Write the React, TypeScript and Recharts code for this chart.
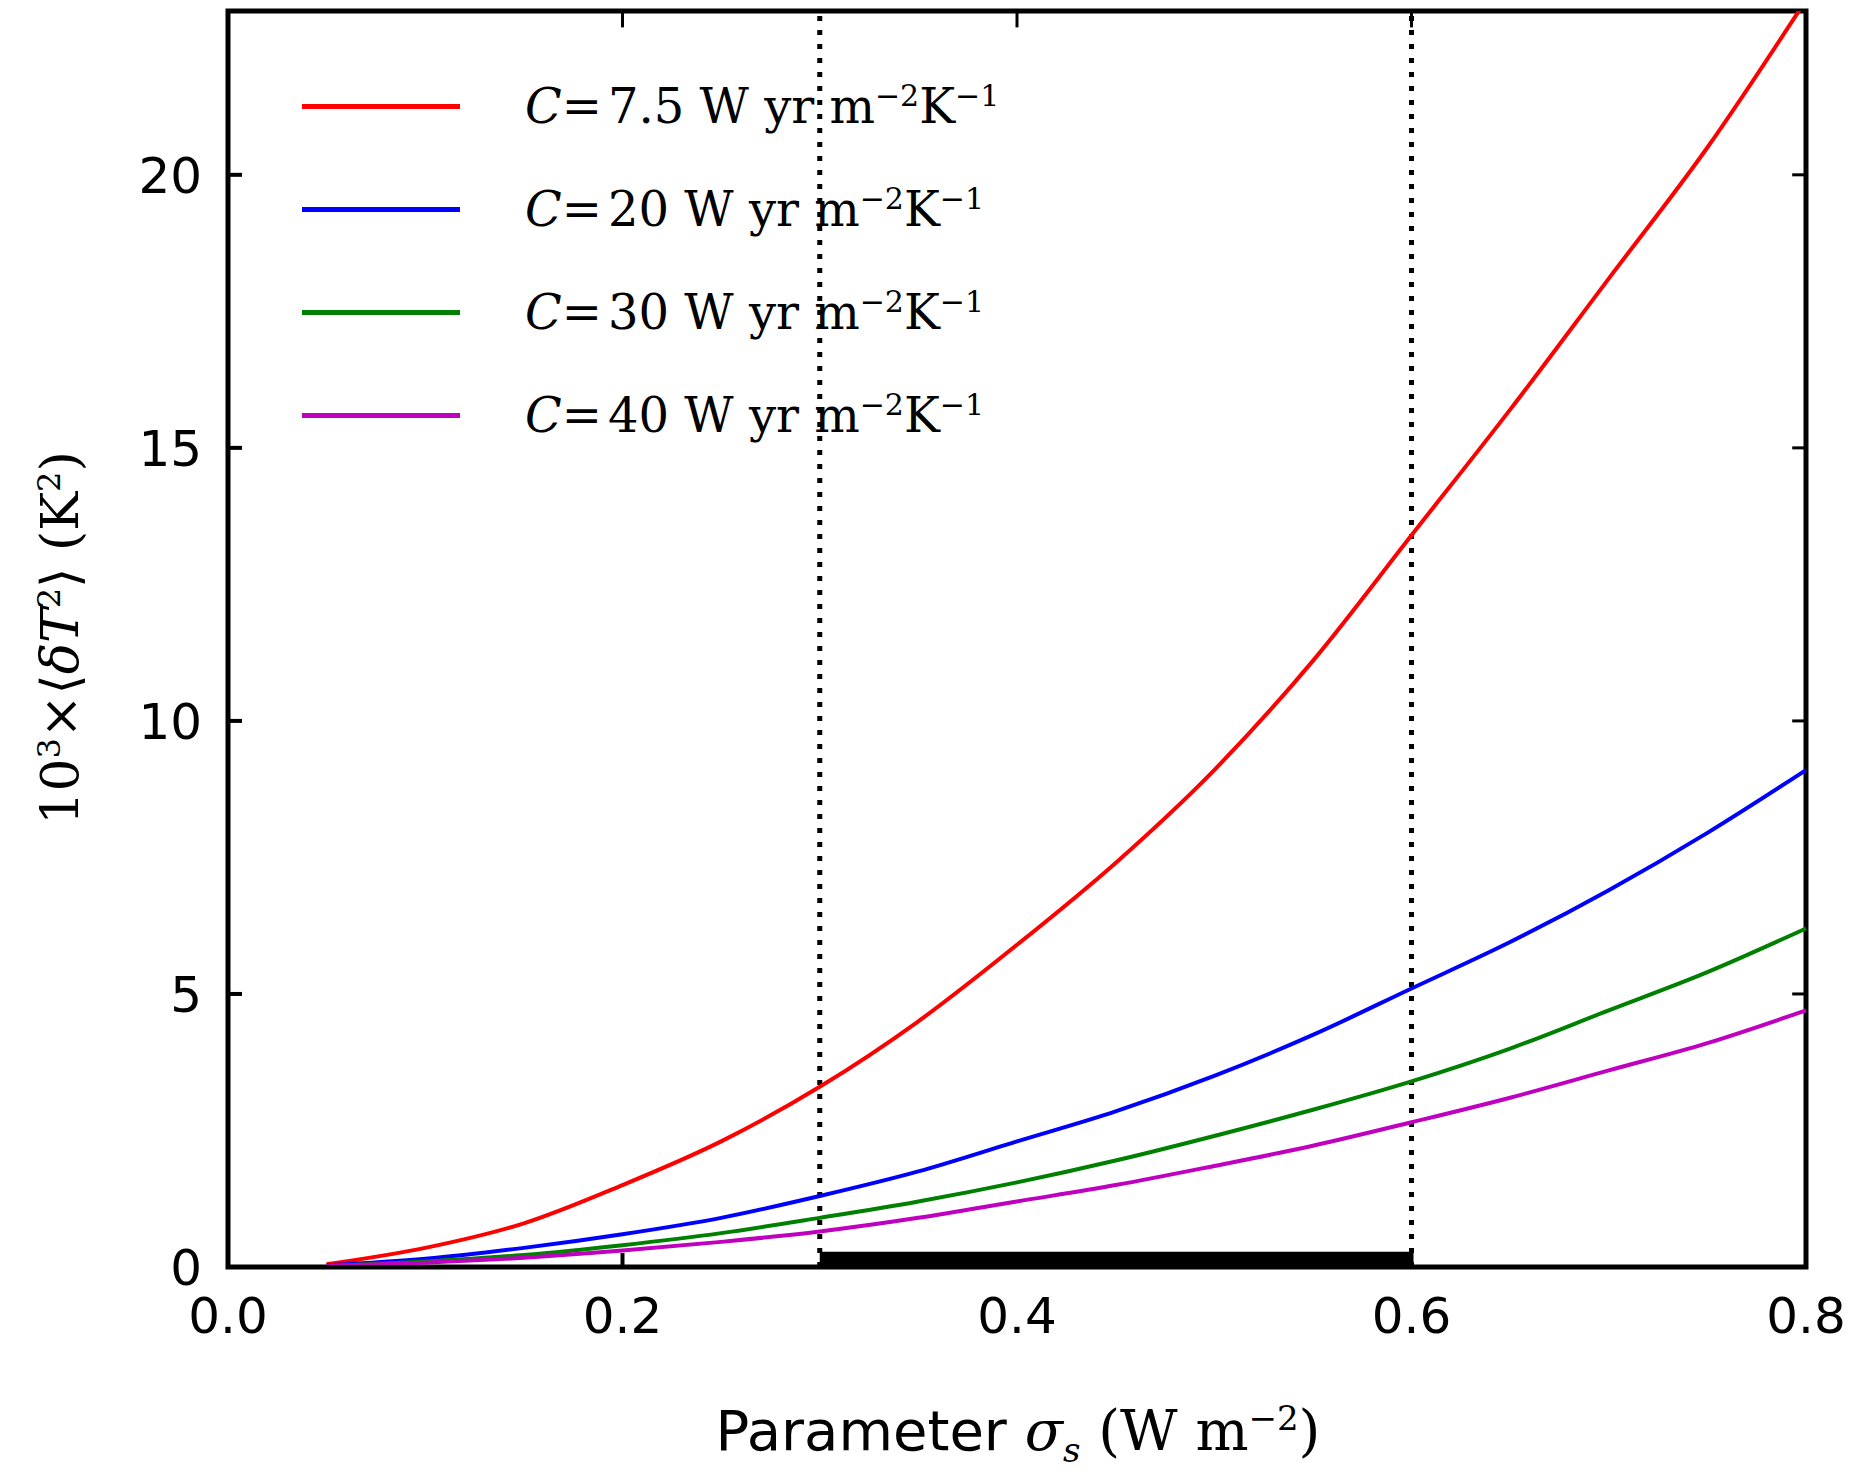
import React from 'react';
import { LineChart, Line, XAxis, YAxis, ReferenceLine, ReferenceArea } from 'recharts';

const sigma = [0.05, 0.1, 0.15, 0.2, 0.25, 0.3, 0.35, 0.4, 0.45, 0.5, 0.55, 0.6, 0.65, 0.7, 0.75, 0.8];
const c75 = [0.05, 0.35, 0.8, 1.5, 2.3, 3.3, 4.5, 5.9, 7.4, 9.1, 11.1, 13.4, 15.7, 18.1, 20.5, 23.2];
const c20 = [0.03, 0.15, 0.35, 0.6, 0.9, 1.3, 1.75, 2.3, 2.85, 3.5, 4.25, 5.1, 5.95, 6.9, 7.95, 9.1];
const c30 = [0.02, 0.1, 0.22, 0.4, 0.62, 0.9, 1.2, 1.55, 1.95, 2.4, 2.88, 3.4, 4.0, 4.7, 5.4, 6.2];
const c40 = [0.02, 0.08, 0.17, 0.3, 0.46, 0.65, 0.9, 1.2, 1.5, 1.85, 2.22, 2.65, 3.1, 3.6, 4.1, 4.7];
const xTicks = [0, 0.2, 0.4, 0.6, 0.8];
const yTicks = [0, 5, 10, 15, 20];

const data = sigma.map((s, i) => ({ s, a: c75[i], b: c20[i], c: c30[i], d: c40[i] }));

const legend = [
  { color: '#ff0000', c: '7.5' },
  { color: '#0000ff', c: '20' },
  { color: '#008000', c: '30' },
  { color: '#bf00bf', c: '40' },
];

const serif = '"DejaVu Serif", serif';
const sans = '"DejaVu Sans", sans-serif';

export default function App() {
  return (
    <div style={{ position: 'relative', width: 1852, height: 1472, background: '#fff' }}>
      <LineChart width={1852} height={1472} data={data} margin={{ top: 3, right: 54, left: 120, bottom: 153 }}>
        <XAxis dataKey="s" type="number" domain={[0, 0.8]} ticks={xTicks} tickFormatter={(v: number) => v.toFixed(1)}
          tickSize={-14} tickMargin={44} height={60} stroke="#000" strokeWidth={4}
          tick={{ fill: '#000', fontSize: 50, fontFamily: sans }} />
        <YAxis type="number" domain={[0, 23]} ticks={yTicks} tickSize={-14} tickMargin={40} width={100}
          stroke="#000" strokeWidth={4} allowDataOverflow
          tick={{ fill: '#000', fontSize: 50, fontFamily: sans }} />
        <ReferenceArea x1={0} x2={0.8} y1={0} y2={23} fill="none" stroke="#000" strokeWidth={5} ifOverflow="visible" />
        {xTicks.map((t) => (
          <ReferenceLine key={'xt' + t} segment={[{ x: t, y: 23 }, { x: t, y: 22.7 }]} stroke="#000" strokeWidth={3} />
        ))}
        {yTicks.map((t) => (
          <ReferenceLine key={'yt' + t} segment={[{ x: 0.8, y: t }, { x: 0.793, y: t }]} stroke="#000" strokeWidth={3} />
        ))}
        <ReferenceArea x1={0.3} x2={0.6} y1={0} y2={0.28} fill="#000" fillOpacity={1} stroke="none" />
        <ReferenceLine x={0.3} stroke="#000" strokeWidth={5} strokeDasharray="5 9" />
        <ReferenceLine x={0.6} stroke="#000" strokeWidth={5} strokeDasharray="5 9" />
        <Line dataKey="a" stroke="#ff0000" strokeWidth={4} dot={false} type="monotone" isAnimationActive={false} />
        <Line dataKey="b" stroke="#0000ff" strokeWidth={4} dot={false} type="monotone" isAnimationActive={false} />
        <Line dataKey="c" stroke="#008000" strokeWidth={4} dot={false} type="monotone" isAnimationActive={false} />
        <Line dataKey="d" stroke="#bf00bf" strokeWidth={4} dot={false} type="monotone" isAnimationActive={false} />
      </LineChart>
      {legend.map((l, i) => (
        <div key={l.c} style={{ position: 'absolute', left: 294, top: 70 + i * 103, display: 'flex', alignItems: 'center' }}>
          <div style={{ width: 158, height: 5, background: l.color }} />
          <div style={{ marginLeft: 65, fontFamily: serif, fontSize: 48, whiteSpace: 'nowrap' }}>
            <i>C</i>=<span style={{ marginLeft: 6 }}>{l.c} W yr m<sup style={{ fontSize: 30 }}>−2</sup>K<sup style={{ fontSize: 30 }}>−1</sup></span>
          </div>
        </div>
      ))}
      <div style={{ position: 'absolute', left: 0, width: 2020, top: 1390, textAlign: 'center', fontSize: 56, fontFamily: sans, whiteSpace: 'nowrap' }}>
        Parameter <i style={{ fontFamily: serif }}>σ<sub style={{ fontSize: 34 }}>s</sub></i>{' '}
        <span style={{ fontFamily: serif }}>(W m<sup style={{ fontSize: 34 }}>−2</sup>)</span>
      </div>
      <div style={{ position: 'absolute', left: 52, top: 630, transform: 'translate(-50%, -50%) rotate(-90deg)', fontSize: 52, fontFamily: serif, whiteSpace: 'nowrap' }}>
        10<sup style={{ fontSize: 32 }}>3</sup>×⟨<i>δT</i><sup style={{ fontSize: 32 }}>2</sup>⟩ (K<sup style={{ fontSize: 32 }}>2</sup>)
      </div>
    </div>
  );
}
